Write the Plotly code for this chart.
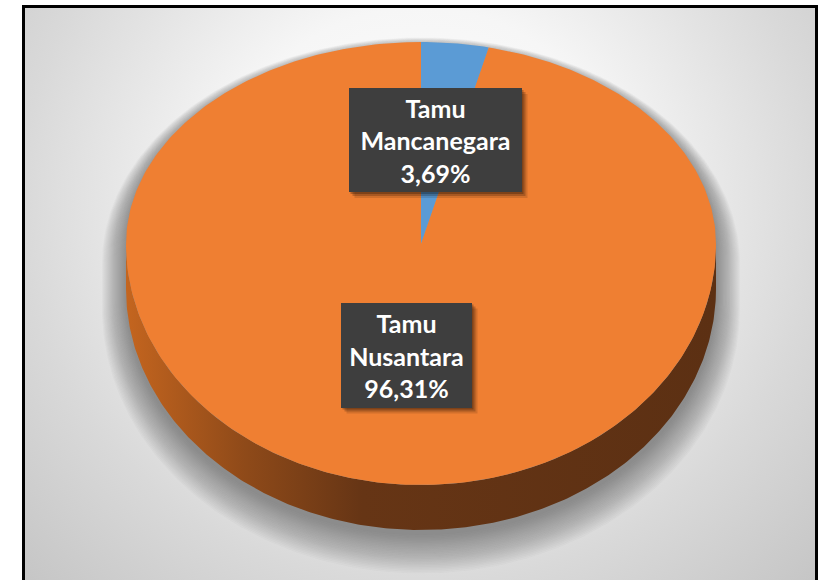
import numpy as np
import plotly.graph_objects as go

# ---- data ----
labels = ["Tamu Mancanegara", "Tamu Nusantara"]
values = [3.69, 96.31]
colors = ["#5B9BD5", "#EF7F32"]

# ---- layout constants (pixels) ----
W, H = 823, 580
CX, CY = 421, 244
RX, RY_FAR, RY_NEAR = 295, 202, 241
DEPTH = 45
label_pos = [(435, 140, 173, 104), (406, 355, 131, 105)]


def ellipse_pts(t, e=0.0, dy=0.0):
    t = np.asarray(t)
    ry = np.where(np.cos(t) >= 0, RY_FAR + e, RY_NEAR + e)
    return CX + (RX + e) * np.sin(t), CY - ry * np.cos(t) + dy


def silhouette(e=0.0, dy=0.0):
    t1 = np.linspace(-np.pi / 2, np.pi / 2, 200)
    x1, y1 = ellipse_pts(t1, e, dy)
    t2 = np.linspace(np.pi / 2, 3 * np.pi / 2, 200)
    x2, y2 = ellipse_pts(t2, e, dy + DEPTH)
    return np.concatenate([x1, x2, x1[:1]]), np.concatenate([y1, y2, y1[:1]])


fig = go.Figure()

# background with radial gradient
fig.add_trace(go.Scatter(
    x=[-150, 990, 990, -150, -150], y=[-350, -350, 750, 750, -350],
    mode="lines", line=dict(width=0), fill="toself",
    fillgradient=dict(type="radial",
                      colorscale=[[0, "#ffffff"], [0.35, "#f6f6f6"], [0.7, "#d9d9d9"], [1, "#c4c4c4"]]),
    hoverinfo="skip", showlegend=False))
# white area outside the frame
for xs, ys in [([0, 23, 23, 0, 0], [0, 0, 580, 580, 0]),
               ([0, 823, 823, 0, 0], [0, 0, 6, 6, 0]),
               ([817, 823, 823, 817, 817], [0, 0, 580, 580, 0])]:
    fig.add_trace(go.Scatter(x=xs, y=ys, mode="lines", line=dict(width=0), fill="toself",
                             fillcolor="white", hoverinfo="skip", showlegend=False))

# soft shadow under the pie
for e in np.arange(24, -1, -1):
    sx, sy = silhouette(e, 5 + e * 0.6)
    fig.add_trace(go.Scatter(x=sx, y=sy, mode="lines", line=dict(width=0), fill="toself",
                             fillcolor="rgba(60,60,60,0.026)", hoverinfo="skip", showlegend=False))

# side wall of the pie
t_side = np.linspace(np.pi / 2, 3 * np.pi / 2, 300)
tx, ty = ellipse_pts(t_side)
bx, by = ellipse_pts(t_side[::-1], 0, DEPTH)
fig.add_trace(go.Scatter(
    x=np.concatenate([tx, bx, tx[:1]]), y=np.concatenate([ty, by, ty[:1]]),
    mode="lines", line=dict(width=0), fill="toself",
    fillgradient=dict(type="horizontal",
                      colorscale=[[0, "#c4651f"], [0.2, "#8f4a19"], [0.4, "#663515"], [1, "#5c3013"]]),
    hoverinfo="skip", showlegend=False))

# top face slices
total = sum(values)
start = 0.0
for lab, v, c in zip(labels, values, colors):
    a0 = start / total * 2 * np.pi
    a1 = (start + v) / total * 2 * np.pi
    t = np.linspace(a0, a1, max(10, int(400 * v / total)))
    ax, ay = ellipse_pts(t)
    fig.add_trace(go.Scatter(
        x=np.concatenate([[CX], ax, [CX]]), y=np.concatenate([[CY], ay, [CY]]),
        mode="lines", line=dict(width=0), fill="toself", fillcolor=c,
        name=lab, hoverinfo="skip", showlegend=False))
    start += v

shapes = [dict(type="rect", xref="x", yref="y", x0=23.5, x1=816.5, y0=6.5, y1=620,
               line=dict(color="black", width=3), fillcolor="rgba(0,0,0,0)", layer="above")]
annotations = []
for lab, v, (lx, ly, bw, bh) in zip(labels, values, label_pos):
    for off, op in [(6, 0.12), (4, 0.2), (2, 0.25)]:
        shapes.append(dict(type="rect", xref="x", yref="y",
                           x0=lx - bw / 2 + off, x1=lx + bw / 2 + off,
                           y0=ly - bh / 2 + off, y1=ly + bh / 2 + off,
                           line=dict(width=0), fillcolor=f"rgba(0,0,0,{op})", layer="above"))
    txt = "<br>".join("<b>" + w + "</b>" for w in lab.split(" ")) + "<br><b>" + f"{v:.2f}%".replace(".", ",") + "</b>"
    annotations.append(dict(
        x=lx, y=ly, xref="x", yref="y", text=txt, showarrow=False,
        xanchor="center", yanchor="middle", width=bw, height=bh,
        bgcolor="#3e3e3e", borderpad=0, borderwidth=0, align="center", valign="middle",
        font=dict(family="Lato", size=25, color="white")))

fig.update_layout(
    width=W, height=H, margin=dict(l=0, r=0, t=0, b=0),
    paper_bgcolor="white", plot_bgcolor="white",
    xaxis=dict(range=[0, W], visible=False, fixedrange=True),
    yaxis=dict(range=[H, 0], visible=False, fixedrange=True),
    shapes=shapes, annotations=annotations, showlegend=False)

fig.write_html("out.html", config={"displayModeBar": False},
               post_script="document.body.style.margin='0px';document.body.style.overflow='hidden';")
